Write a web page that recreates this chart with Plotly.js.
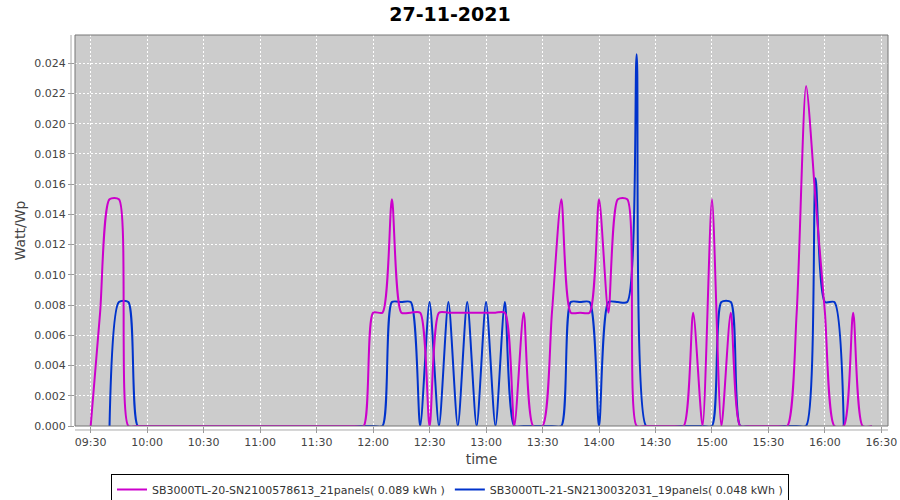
<!DOCTYPE html>
<html>
<head>
<meta charset="utf-8">
<script src="https://cdn.plot.ly/plotly-3.0.1.min.js"></script>
<style>html,body{margin:0;padding:0;background:#fff;}#chart{width:900px;height:500px;}</style>
</head>
<body>
<div id="chart"></div>
<script>
// 5-minute sample times (27-11-2021)
const times = [
 "09:30","09:35","09:40","09:45","09:50","09:55",
 "10:00","10:05","10:10","10:15","10:20","10:25","10:30","10:35","10:40","10:45","10:50","10:55",
 "11:00","11:05","11:10","11:15","11:20","11:25","11:30","11:35","11:40","11:45","11:50","11:55",
 "12:00","12:05","12:10","12:15","12:20","12:25","12:30","12:35","12:40","12:45","12:50","12:55",
 "13:00","13:05","13:10","13:15","13:20","13:25","13:30","13:35","13:40","13:45","13:50","13:55",
 "14:00","14:05","14:10","14:15","14:20","14:25","14:30","14:35","14:40","14:45","14:50","14:55",
 "15:00","15:05","15:10","15:15","15:20","15:25","15:30","15:35","15:40","15:45","15:50","15:55",
 "16:00","16:05","16:10","16:15","16:20","16:25"
];

// SB3000TL-20 (21 panels), Watt/Wp
const sb20 = [
 0,0.0075,0.015,0.015,0,0,
 0,0,0,0,0,0,0,0,0,0,0,0,
 0,0,0,0,0,0,0,0,0,0,0,0,
 0.0075,0.0075,0.015,0.0075,0.0075,0.0075,0,0.0075,0.0075,0.0075,0.0075,0.0075,
 0.0075,0.0075,0.0075,0,0.0075,0,0,0.0075,0.015,0.0075,0.0075,0.0075,
 0.015,0.0075,0.015,0.015,0,0,0,0,0,0,0.0075,0,
 0.015,0,0.0075,0,0,0,0,0,0,0.0075,0.0225,0.015,
 0.0075,0,0,0.0075,0,0
];

// SB3000TL-21 (19 panels), Watt/Wp
const sb21 = [
 null,null,0,0.0082,0.0082,0,
 0,0,0,0,0,0,0,0,0,0,0,0,
 0,0,0,0,0,0,0,0,0,0,0,0,
 0,0,0.0082,0.0082,0.0082,0,0.0082,0,0.0082,0,0.0082,0,
 0.0082,0,0.0082,0,0,0,0,0,0,0.0082,0.0082,0.0082,
 0,0.0082,0.0082,0.0082,0.0246,0,0,0,0,0,0,0,
 0,0.0082,0.0082,0,0,0,0,0,0,0,0,0.0164,
 0.0082,0.0082,0,null,null,null
];

const seriesNames = [
 "SB3000TL-20-SN2100578613_21panels( 0.089 kWh )",
 "SB3000TL-21-SN2130032031_19panels( 0.048 kWh )"
];
const day = "2021-11-27";
const x = times.map(t => day + " " + t);

const font = "DejaVu Sans, Verdana, sans-serif";

const traces = [
 {x: x, y: sb21, name: seriesNames[1], type: "scatter", mode: "lines",
  line: {color: "#0033cc", width: 2, shape: "spline", smoothing: 0.7}},
 {x: x, y: sb20, name: seriesNames[0], type: "scatter", mode: "lines",
  line: {color: "#cc00cc", width: 2, shape: "spline", smoothing: 0.7}}
];

const layout = {
 width: 900, height: 500,
 margin: {l: 75, r: 12, t: 35, b: 74},
 paper_bgcolor: "#ffffff",
 plot_bgcolor: "#cccccc",
 font: {family: font, size: 11, color: "#444"},
 title: {text: "<b>27-11-2021</b>", x: 0.5, xref: "container", y: 0.972, yref: "container",
   yanchor: "middle", font: {family: font, size: 19, color: "#000"}},
 xaxis: {
  type: "date",
  range: [day + " 09:21:40", day + " 16:33:30"],
  tick0: day + " 09:30", dtick: 1800000, tickformat: "%H:%M",
  showgrid: true, gridcolor: "#ffffff", griddash: "2px,2px", gridwidth: 1,
  ticks: "outside", ticklen: 6, tickcolor: "#999",
  tickfont: {family: font, size: 11, color: "#444"},
  zeroline: false, showline: false,
  title: {text: "time", font: {family: font, size: 14, color: "#444"}, standoff: 5}
 },
 yaxis: {
  range: [0, 0.02587],
  dtick: 0.002, tick0: 0, tickformat: ".3f",
  showgrid: true, gridcolor: "#ffffff", griddash: "2px,2px", gridwidth: 1,
  ticks: "outside", ticklen: 6, tickcolor: "#999",
  tickfont: {family: font, size: 11, color: "#444"},
  zeroline: false, showline: false,
  title: {text: "Watt/Wp", font: {family: font, size: 14, color: "#444"}, standoff: 5}
 },
 showlegend: true,
 legend: {
  orientation: "h", traceorder: "reversed",
  xref: "container", yref: "container", x: 0.5, xanchor: "center", y: 0.052, yanchor: "top",
  bgcolor: "#ffffff", bordercolor: "#000000", borderwidth: 1,
  font: {family: font, size: 11, color: "#333"},
  itemwidth: 30
 },
 shapes: [
  {type: "rect", xref: "paper", yref: "paper", x0: 0, x1: 1, y0: 0, y1: 1,
   line: {color: "#777", width: 1}, fillcolor: "rgba(0,0,0,0)", layer: "above"},
  {type: "line", xref: "paper", yref: "paper", x0: -0.0049, x1: -0.0049, y0: 0, y1: 1,
   line: {color: "#aaa", width: 1}},
  {type: "line", xref: "paper", yref: "paper", x0: 0, x1: 1, y0: -0.0102, y1: -0.0102,
   line: {color: "#aaa", width: 1}}
 ]
};

Plotly.newPlot("chart", traces, layout, {displayModeBar: false, staticPlot: true});
</script>
</body>
</html>
